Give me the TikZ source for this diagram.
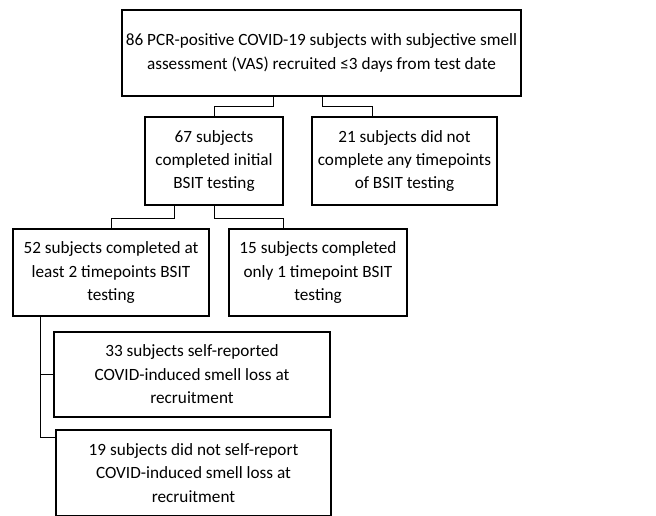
\documentclass[tikz,border=0pt]{standalone}
\usepackage{fontspec}
\setmainfont{Carlito}

\begin{document}
\begin{tikzpicture}[x=1pt,y=-1pt,
		box/.style={draw,line width=1.1pt,align=center,inner sep=1pt,
			font=\fontsize{17.2}{23.5}\selectfont},
		link/.style={draw,line width=0.8pt}]
		\useasboundingbox (0,0) rectangle (656,515);
		\node[box,minimum width=399,minimum height=86] (all) at (321.5,53)
			{86 PCR-positive COVID-19 subjects with subjective smell\\assessment (VAS) recruited ≤3 days from test date};
		\node[box,minimum width=138,minimum height=88] (initial) at (214,161)
			{67 subjects\\completed initial\\BSIT testing};
		\node[box,minimum width=185,minimum height=88] (none) at (404.5,161)
			{21 subjects did not\\complete any timepoints\\of BSIT testing};
		\node[box,minimum width=196,minimum height=87] (two) at (111,272.5)
			{52 subjects completed at\\least 2 timepoints BSIT\\testing};
		\node[box,minimum width=178,minimum height=87] (one) at (318,272.5)
			{15 subjects completed\\only 1 timepoint BSIT\\testing};
		\node[box,minimum width=276,minimum height=85] (loss) at (192,374.5)
			{33 subjects self-reported\\COVID-induced smell loss at\\recruitment};
		\node[box,minimum width=275,minimum height=86] (noloss) at (193.5,473)
			{19 subjects did not self-report\\COVID-induced smell loss at\\recruitment};
		% elbow connectors
		\draw[link] ([xshift=-48.5pt]all.south) -- ++(0,10) -| (initial.north);
		\draw[link] ([xshift=0.5pt]all.south) -- ++(0,10) -| ([xshift=-32.5pt]none.north);
		\draw[link] ([xshift=-40pt]initial.south) -- ++(0,13) -| (two.north);
		\draw[link] (initial.south) -- ++(0,13) -| ([xshift=-35pt]one.north);
		\draw[link] ([xshift=-71pt]two.south) |- (loss.west);
		\draw[link] ([xshift=-71pt]two.south) |- ([yshift=-8pt]noloss.north west);
\end{tikzpicture}
\end{document}
